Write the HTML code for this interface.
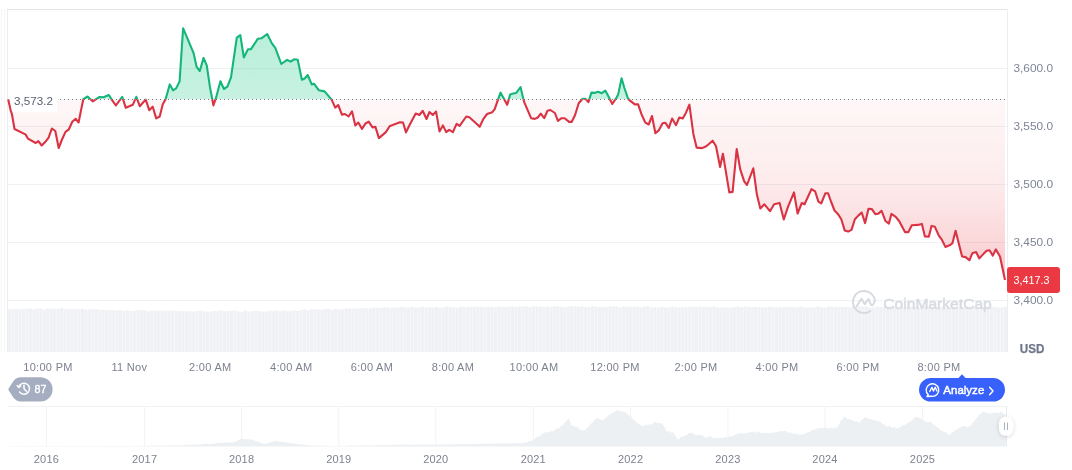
<!DOCTYPE html>
<html><head><meta charset="utf-8"><style>
html,body{margin:0;padding:0;background:#fff;width:1072px;height:470px;overflow:hidden;font-family:"Liberation Sans",sans-serif;}
svg{will-change:transform;}
</style></head><body>
<svg width="1072" height="470" viewBox="0 0 1072 470" style="position:absolute;left:0;top:0">
<defs>
<clipPath id="up"><rect x="0" y="0" width="1072" height="99.3"/></clipPath>
<clipPath id="dn"><rect x="0" y="99.3" width="1072" height="300"/></clipPath>
<linearGradient id="rg" x1="0" y1="99" x2="0" y2="285" gradientUnits="userSpaceOnUse">
<stop offset="0" stop-color="#ea3943" stop-opacity="0.04"/>
<stop offset="0.45" stop-color="#ea3943" stop-opacity="0.10"/>
<stop offset="0.8" stop-color="#ea3943" stop-opacity="0.21"/>
<stop offset="1" stop-color="#ea3943" stop-opacity="0.32"/>
</linearGradient>
<linearGradient id="gg" x1="0" y1="28" x2="0" y2="99" gradientUnits="userSpaceOnUse">
<stop offset="0" stop-color="#16c784" stop-opacity="0.30"/>
<stop offset="1" stop-color="#16c784" stop-opacity="0.24"/>
</linearGradient>
<filter id="sh" x="-50%" y="-50%" width="200%" height="200%"><feDropShadow dx="0" dy="1" stdDeviation="2" flood-color="#000" flood-opacity="0.16"/></filter>
</defs>
<g fill="none" stroke-width="1">
<path d="M1.5,352V8.5M4.5,352V8.5" stroke="#f6f6f7"/><path d="M7.5,352V9.5" stroke="#eceef0"/><path d="M7,9.5H1007.5" stroke="#e2e4e7"/><path d="M1007.5,9V352" stroke="#eceef0"/>
</g>
<g stroke="#eff1f4" stroke-width="1">
<line x1="8" y1="68.5" x2="1007" y2="68.5"/>
<line x1="8" y1="126.5" x2="1007" y2="126.5"/>
<line x1="8" y1="184.5" x2="1007" y2="184.5"/>
<line x1="8" y1="242.5" x2="1007" y2="242.5"/>
<line x1="8" y1="300.5" x2="1007" y2="300.5"/>
</g>
<path d="M8.2,99.2 L10.5,109.8 L11.9,114.0 L14.5,129.0 L23.8,133.6 L25.5,134.4 L28.0,138.7 L35.7,143.0 L38.3,141.2 L41.7,145.5 L45.9,141.2 L48.5,137.8 L51.9,128.5 L55.3,131.0 L58.7,148.0 L62.0,139.5 L65.5,131.9 L68.9,129.3 L72.3,121.7 L75.7,118.8 L78.6,122.5 L81.3,108.9 L83.3,99.2 L87.6,96.5 L92.7,101.3 L99.5,97.0 L103.5,97.3 L108.9,95.0 L111.7,99.6 L115.9,105.5 L122.2,96.8 L125.8,107.8 L132.8,104.8 L136.3,96.8 L139.8,106.2 L145.7,99.6 L149.2,110.2 L152.7,106.7 L156.2,118.4 L159.7,116.5 L162.8,104.3 L165.6,99.2 L169.8,84.4 L173.0,90.3 L176.1,88.4 L179.6,81.4 L183.1,28.2 L193.5,52.8 L196.6,66.8 L199.8,71.0 L203.6,57.9 L206.8,65.6 L209.9,86.7 L213.4,105.4 L216.2,97.2 L220.4,81.3 L223.9,89.0 L227.4,86.7 L231.0,77.3 L236.8,37.6 L240.3,35.2 L243.8,57.4 L248.0,49.3 L250.8,49.3 L257.9,38.7 L261.4,38.3 L267.2,34.0 L271.9,43.4 L275.4,48.1 L281.3,64.0 L287.1,59.8 L290.6,61.7 L294.1,59.3 L297.7,59.8 L301.9,79.7 L304.7,78.5 L307.7,75.0 L311.7,84.4 L314.0,83.7 L318.7,90.2 L324.6,91.4 L331.6,99.6 L335.2,107.6 L338.2,105.0 L341.9,114.6 L344.9,114.0 L348.6,116.5 L352.0,111.3 L355.3,125.4 L358.3,122.5 L362.0,128.9 L365.8,123.2 L368.7,121.7 L372.5,127.4 L375.4,126.9 L378.9,138.1 L385.9,132.1 L389.6,126.2 L394.1,124.4 L400.0,122.2 L403.0,122.5 L406.0,132.4 L409.7,124.7 L415.7,113.5 L419.4,115.0 L422.7,110.8 L426.5,119.0 L429.5,112.0 L432.8,115.0 L436.1,111.6 L439.5,131.4 L442.9,125.4 L446.2,132.1 L449.2,129.9 L452.9,132.1 L456.6,123.9 L459.6,125.9 L466.3,116.5 L469.3,117.2 L475.2,122.5 L479.7,126.8 L483.4,118.9 L487.1,114.0 L492.3,112.2 L494.6,109.3 L498.3,98.8 L500.5,92.6 L503.5,98.1 L507.2,104.8 L510.2,94.4 L513.2,93.6 L516.2,92.9 L520.6,87.2 L523.3,98.8 L524.4,102.6 L531.1,118.2 L534.8,118.9 L537.8,117.5 L540.8,113.7 L544.2,118.2 L547.5,110.8 L550.4,110.0 L554.9,113.0 L557.9,120.9 L561.6,118.2 L564.6,118.2 L569.1,121.9 L571.6,121.9 L575.0,115.2 L578.7,103.3 L582.5,98.8 L585.4,98.8 L588.4,102.1 L591.4,92.6 L594.4,92.9 L598.1,91.7 L601.8,93.2 L605.3,90.6 L608.5,96.6 L612.3,104.0 L616.7,97.3 L618.2,94.4 L621.6,78.3 L624.4,88.0 L628.0,98.5 L630.0,100.7 L634.8,104.4 L638.1,104.4 L641.5,114.2 L645.3,122.6 L648.7,124.5 L652.0,116.0 L655.4,133.3 L658.7,130.4 L662.6,123.3 L665.4,122.8 L668.8,128.0 L672.1,118.5 L676.0,125.2 L679.3,117.5 L682.7,118.5 L686.0,112.7 L689.4,104.6 L693.3,133.7 L696.6,147.6 L702.1,148.1 L706.3,146.2 L712.7,140.7 L716.0,146.2 L720.1,167.0 L722.9,153.7 L729.3,192.4 L732.6,191.9 L736.7,149.0 L740.3,169.7 L744.2,181.4 L747.0,185.0 L753.3,168.3 L756.9,194.6 L760.3,208.5 L764.4,204.3 L770.0,211.2 L774.1,204.3 L779.6,202.9 L783.8,219.5 L787.9,207.1 L794.0,192.4 L797.6,213.5 L801.8,203.0 L804.5,204.3 L811.5,189.1 L815.1,191.3 L818.4,201.6 L821.2,203.5 L825.3,193.3 L828.1,193.3 L831.0,201.5 L834.5,210.5 L837.9,213.9 L841.3,219.3 L844.7,230.4 L848.1,231.6 L851.5,229.9 L854.9,219.3 L858.3,215.6 L861.7,212.5 L865.1,223.1 L868.5,208.8 L871.9,209.1 L875.3,214.2 L878.7,213.4 L881.6,210.8 L885.5,221.0 L888.9,223.6 L891.4,213.9 L895.7,216.8 L899.1,221.0 L905.0,232.1 L908.4,232.1 L911.8,225.3 L917.7,224.9 L921.9,223.9 L924.9,236.4 L928.8,236.8 L931.5,225.9 L934.9,226.8 L938.7,235.4 L941.6,239.3 L945.4,246.9 L950.2,245.0 L952.5,243.1 L955.6,230.7 L958.9,244.1 L962.1,256.5 L965.6,257.1 L969.4,260.3 L972.3,253.3 L976.1,252.1 L979.3,258.4 L983.8,253.6 L986.6,250.8 L989.5,250.2 L992.8,255.6 L995.8,249.4 L1000.0,256.5 L1005.0,280.0 L1005.0,99.3 L8.2,99.3 Z" fill="url(#gg)" clip-path="url(#up)"/>
<path d="M8.2,99.2 L10.5,109.8 L11.9,114.0 L14.5,129.0 L23.8,133.6 L25.5,134.4 L28.0,138.7 L35.7,143.0 L38.3,141.2 L41.7,145.5 L45.9,141.2 L48.5,137.8 L51.9,128.5 L55.3,131.0 L58.7,148.0 L62.0,139.5 L65.5,131.9 L68.9,129.3 L72.3,121.7 L75.7,118.8 L78.6,122.5 L81.3,108.9 L83.3,99.2 L87.6,96.5 L92.7,101.3 L99.5,97.0 L103.5,97.3 L108.9,95.0 L111.7,99.6 L115.9,105.5 L122.2,96.8 L125.8,107.8 L132.8,104.8 L136.3,96.8 L139.8,106.2 L145.7,99.6 L149.2,110.2 L152.7,106.7 L156.2,118.4 L159.7,116.5 L162.8,104.3 L165.6,99.2 L169.8,84.4 L173.0,90.3 L176.1,88.4 L179.6,81.4 L183.1,28.2 L193.5,52.8 L196.6,66.8 L199.8,71.0 L203.6,57.9 L206.8,65.6 L209.9,86.7 L213.4,105.4 L216.2,97.2 L220.4,81.3 L223.9,89.0 L227.4,86.7 L231.0,77.3 L236.8,37.6 L240.3,35.2 L243.8,57.4 L248.0,49.3 L250.8,49.3 L257.9,38.7 L261.4,38.3 L267.2,34.0 L271.9,43.4 L275.4,48.1 L281.3,64.0 L287.1,59.8 L290.6,61.7 L294.1,59.3 L297.7,59.8 L301.9,79.7 L304.7,78.5 L307.7,75.0 L311.7,84.4 L314.0,83.7 L318.7,90.2 L324.6,91.4 L331.6,99.6 L335.2,107.6 L338.2,105.0 L341.9,114.6 L344.9,114.0 L348.6,116.5 L352.0,111.3 L355.3,125.4 L358.3,122.5 L362.0,128.9 L365.8,123.2 L368.7,121.7 L372.5,127.4 L375.4,126.9 L378.9,138.1 L385.9,132.1 L389.6,126.2 L394.1,124.4 L400.0,122.2 L403.0,122.5 L406.0,132.4 L409.7,124.7 L415.7,113.5 L419.4,115.0 L422.7,110.8 L426.5,119.0 L429.5,112.0 L432.8,115.0 L436.1,111.6 L439.5,131.4 L442.9,125.4 L446.2,132.1 L449.2,129.9 L452.9,132.1 L456.6,123.9 L459.6,125.9 L466.3,116.5 L469.3,117.2 L475.2,122.5 L479.7,126.8 L483.4,118.9 L487.1,114.0 L492.3,112.2 L494.6,109.3 L498.3,98.8 L500.5,92.6 L503.5,98.1 L507.2,104.8 L510.2,94.4 L513.2,93.6 L516.2,92.9 L520.6,87.2 L523.3,98.8 L524.4,102.6 L531.1,118.2 L534.8,118.9 L537.8,117.5 L540.8,113.7 L544.2,118.2 L547.5,110.8 L550.4,110.0 L554.9,113.0 L557.9,120.9 L561.6,118.2 L564.6,118.2 L569.1,121.9 L571.6,121.9 L575.0,115.2 L578.7,103.3 L582.5,98.8 L585.4,98.8 L588.4,102.1 L591.4,92.6 L594.4,92.9 L598.1,91.7 L601.8,93.2 L605.3,90.6 L608.5,96.6 L612.3,104.0 L616.7,97.3 L618.2,94.4 L621.6,78.3 L624.4,88.0 L628.0,98.5 L630.0,100.7 L634.8,104.4 L638.1,104.4 L641.5,114.2 L645.3,122.6 L648.7,124.5 L652.0,116.0 L655.4,133.3 L658.7,130.4 L662.6,123.3 L665.4,122.8 L668.8,128.0 L672.1,118.5 L676.0,125.2 L679.3,117.5 L682.7,118.5 L686.0,112.7 L689.4,104.6 L693.3,133.7 L696.6,147.6 L702.1,148.1 L706.3,146.2 L712.7,140.7 L716.0,146.2 L720.1,167.0 L722.9,153.7 L729.3,192.4 L732.6,191.9 L736.7,149.0 L740.3,169.7 L744.2,181.4 L747.0,185.0 L753.3,168.3 L756.9,194.6 L760.3,208.5 L764.4,204.3 L770.0,211.2 L774.1,204.3 L779.6,202.9 L783.8,219.5 L787.9,207.1 L794.0,192.4 L797.6,213.5 L801.8,203.0 L804.5,204.3 L811.5,189.1 L815.1,191.3 L818.4,201.6 L821.2,203.5 L825.3,193.3 L828.1,193.3 L831.0,201.5 L834.5,210.5 L837.9,213.9 L841.3,219.3 L844.7,230.4 L848.1,231.6 L851.5,229.9 L854.9,219.3 L858.3,215.6 L861.7,212.5 L865.1,223.1 L868.5,208.8 L871.9,209.1 L875.3,214.2 L878.7,213.4 L881.6,210.8 L885.5,221.0 L888.9,223.6 L891.4,213.9 L895.7,216.8 L899.1,221.0 L905.0,232.1 L908.4,232.1 L911.8,225.3 L917.7,224.9 L921.9,223.9 L924.9,236.4 L928.8,236.8 L931.5,225.9 L934.9,226.8 L938.7,235.4 L941.6,239.3 L945.4,246.9 L950.2,245.0 L952.5,243.1 L955.6,230.7 L958.9,244.1 L962.1,256.5 L965.6,257.1 L969.4,260.3 L972.3,253.3 L976.1,252.1 L979.3,258.4 L983.8,253.6 L986.6,250.8 L989.5,250.2 L992.8,255.6 L995.8,249.4 L1000.0,256.5 L1005.0,280.0 L1005.0,99.3 L8.2,99.3 Z" fill="url(#rg)" clip-path="url(#dn)"/>
<path d="M8.00,308.89h3.12V352h-3.12ZM11.47,309.21h3.12V352h-3.12ZM14.94,308.96h3.12V352h-3.12ZM18.41,309.20h3.12V352h-3.12ZM21.88,309.19h3.12V352h-3.12ZM25.35,308.48h3.12V352h-3.12ZM28.82,308.38h3.12V352h-3.12ZM32.29,309.32h3.12V352h-3.12ZM35.76,308.59h3.12V352h-3.12ZM39.23,308.52h3.12V352h-3.12ZM42.70,309.39h3.12V352h-3.12ZM46.17,308.72h3.12V352h-3.12ZM49.64,309.12h3.12V352h-3.12ZM53.11,308.65h3.12V352h-3.12ZM56.58,308.81h3.12V352h-3.12ZM60.05,308.18h3.12V352h-3.12ZM63.52,308.86h3.12V352h-3.12ZM66.99,309.23h3.12V352h-3.12ZM70.46,308.91h3.12V352h-3.12ZM73.93,309.27h3.12V352h-3.12ZM77.40,309.28h3.12V352h-3.12ZM80.87,308.64h3.12V352h-3.12ZM84.34,309.57h3.12V352h-3.12ZM87.81,309.46h3.12V352h-3.12ZM91.28,309.21h3.12V352h-3.12ZM94.74,308.98h3.12V352h-3.12ZM98.21,310.08h3.12V352h-3.12ZM101.68,309.70h3.12V352h-3.12ZM105.15,310.09h3.12V352h-3.12ZM108.62,310.37h3.12V352h-3.12ZM112.09,310.27h3.12V352h-3.12ZM115.56,310.61h3.12V352h-3.12ZM119.03,310.08h3.12V352h-3.12ZM122.50,310.66h3.12V352h-3.12ZM125.97,310.32h3.12V352h-3.12ZM129.44,311.01h3.12V352h-3.12ZM132.91,310.97h3.12V352h-3.12ZM136.38,310.05h3.12V352h-3.12ZM139.85,310.11h3.12V352h-3.12ZM143.32,310.23h3.12V352h-3.12ZM146.79,311.14h3.12V352h-3.12ZM150.26,310.52h3.12V352h-3.12ZM153.73,310.77h3.12V352h-3.12ZM157.20,310.40h3.12V352h-3.12ZM160.67,310.66h3.12V352h-3.12ZM164.14,310.53h3.12V352h-3.12ZM167.61,310.51h3.12V352h-3.12ZM171.08,310.81h3.12V352h-3.12ZM174.55,310.82h3.12V352h-3.12ZM178.02,311.23h3.12V352h-3.12ZM181.49,310.98h3.12V352h-3.12ZM184.96,311.29h3.12V352h-3.12ZM188.43,311.22h3.12V352h-3.12ZM191.90,311.40h3.12V352h-3.12ZM195.37,311.03h3.12V352h-3.12ZM198.84,310.44h3.12V352h-3.12ZM202.31,311.29h3.12V352h-3.12ZM205.78,311.44h3.12V352h-3.12ZM209.25,311.38h3.12V352h-3.12ZM212.72,311.00h3.12V352h-3.12ZM216.19,311.19h3.12V352h-3.12ZM219.66,310.60h3.12V352h-3.12ZM223.13,311.36h3.12V352h-3.12ZM226.60,311.07h3.12V352h-3.12ZM230.07,310.74h3.12V352h-3.12ZM233.54,310.49h3.12V352h-3.12ZM237.01,311.46h3.12V352h-3.12ZM240.48,311.64h3.12V352h-3.12ZM243.95,310.58h3.12V352h-3.12ZM247.42,311.45h3.12V352h-3.12ZM250.89,311.00h3.12V352h-3.12ZM254.36,310.70h3.12V352h-3.12ZM257.82,310.89h3.12V352h-3.12ZM261.29,311.48h3.12V352h-3.12ZM264.76,311.62h3.12V352h-3.12ZM268.23,310.64h3.12V352h-3.12ZM271.70,311.28h3.12V352h-3.12ZM275.17,310.48h3.12V352h-3.12ZM278.64,311.18h3.12V352h-3.12ZM282.11,310.60h3.12V352h-3.12ZM285.58,311.15h3.12V352h-3.12ZM289.05,311.15h3.12V352h-3.12ZM292.52,310.47h3.12V352h-3.12ZM295.99,310.95h3.12V352h-3.12ZM299.46,310.01h3.12V352h-3.12ZM302.93,309.61h3.12V352h-3.12ZM306.40,310.13h3.12V352h-3.12ZM309.87,309.33h3.12V352h-3.12ZM313.34,309.42h3.12V352h-3.12ZM316.81,309.56h3.12V352h-3.12ZM320.28,309.69h3.12V352h-3.12ZM323.75,309.03h3.12V352h-3.12ZM327.22,308.78h3.12V352h-3.12ZM330.69,309.66h3.12V352h-3.12ZM334.16,308.88h3.12V352h-3.12ZM337.63,309.54h3.12V352h-3.12ZM341.10,309.35h3.12V352h-3.12ZM344.57,308.61h3.12V352h-3.12ZM348.04,308.60h3.12V352h-3.12ZM351.51,308.56h3.12V352h-3.12ZM354.98,308.59h3.12V352h-3.12ZM358.45,308.42h3.12V352h-3.12ZM361.92,308.26h3.12V352h-3.12ZM365.39,308.22h3.12V352h-3.12ZM368.86,308.49h3.12V352h-3.12ZM372.33,307.86h3.12V352h-3.12ZM375.80,307.65h3.12V352h-3.12ZM379.27,307.89h3.12V352h-3.12ZM382.74,307.27h3.12V352h-3.12ZM386.21,307.32h3.12V352h-3.12ZM389.68,308.11h3.12V352h-3.12ZM393.15,307.54h3.12V352h-3.12ZM396.62,307.55h3.12V352h-3.12ZM400.09,306.88h3.12V352h-3.12ZM403.56,307.35h3.12V352h-3.12ZM407.03,307.52h3.12V352h-3.12ZM410.50,306.83h3.12V352h-3.12ZM413.97,307.52h3.12V352h-3.12ZM417.44,307.52h3.12V352h-3.12ZM420.91,306.81h3.12V352h-3.12ZM424.38,307.47h3.12V352h-3.12ZM427.84,307.25h3.12V352h-3.12ZM431.31,307.49h3.12V352h-3.12ZM434.78,307.07h3.12V352h-3.12ZM438.25,307.47h3.12V352h-3.12ZM441.72,307.49h3.12V352h-3.12ZM445.19,306.61h3.12V352h-3.12ZM448.66,306.63h3.12V352h-3.12ZM452.13,307.35h3.12V352h-3.12ZM455.60,307.67h3.12V352h-3.12ZM459.07,306.79h3.12V352h-3.12ZM462.54,307.02h3.12V352h-3.12ZM466.01,307.16h3.12V352h-3.12ZM469.48,306.81h3.12V352h-3.12ZM472.95,306.84h3.12V352h-3.12ZM476.42,306.76h3.12V352h-3.12ZM479.89,306.80h3.12V352h-3.12ZM483.36,307.05h3.12V352h-3.12ZM486.83,306.68h3.12V352h-3.12ZM490.30,306.75h3.12V352h-3.12ZM493.77,307.20h3.12V352h-3.12ZM497.24,306.28h3.12V352h-3.12ZM500.71,306.91h3.12V352h-3.12ZM504.18,307.09h3.12V352h-3.12ZM507.65,306.55h3.12V352h-3.12ZM511.12,306.43h3.12V352h-3.12ZM514.59,307.10h3.12V352h-3.12ZM518.06,306.40h3.12V352h-3.12ZM521.53,306.32h3.12V352h-3.12ZM525.00,306.59h3.12V352h-3.12ZM528.47,306.89h3.12V352h-3.12ZM531.94,306.15h3.12V352h-3.12ZM535.41,306.39h3.12V352h-3.12ZM538.88,306.41h3.12V352h-3.12ZM542.35,307.02h3.12V352h-3.12ZM545.82,306.55h3.12V352h-3.12ZM549.29,307.06h3.12V352h-3.12ZM552.76,306.24h3.12V352h-3.12ZM556.23,306.45h3.12V352h-3.12ZM559.70,306.84h3.12V352h-3.12ZM563.17,307.13h3.12V352h-3.12ZM566.64,306.62h3.12V352h-3.12ZM570.11,306.35h3.12V352h-3.12ZM573.58,306.24h3.12V352h-3.12ZM577.05,306.74h3.12V352h-3.12ZM580.52,306.34h3.12V352h-3.12ZM583.99,307.09h3.12V352h-3.12ZM587.46,307.13h3.12V352h-3.12ZM590.92,306.35h3.12V352h-3.12ZM594.39,306.48h3.12V352h-3.12ZM597.86,307.12h3.12V352h-3.12ZM601.33,306.93h3.12V352h-3.12ZM604.80,307.14h3.12V352h-3.12ZM608.27,306.59h3.12V352h-3.12ZM611.74,306.34h3.12V352h-3.12ZM615.21,306.54h3.12V352h-3.12ZM618.68,307.15h3.12V352h-3.12ZM622.15,306.54h3.12V352h-3.12ZM625.62,306.63h3.12V352h-3.12ZM629.09,306.73h3.12V352h-3.12ZM632.56,306.74h3.12V352h-3.12ZM636.03,306.74h3.12V352h-3.12ZM639.50,307.36h3.12V352h-3.12ZM642.97,306.45h3.12V352h-3.12ZM646.44,306.27h3.12V352h-3.12ZM649.91,307.41h3.12V352h-3.12ZM653.38,307.34h3.12V352h-3.12ZM656.85,307.48h3.12V352h-3.12ZM660.32,306.82h3.12V352h-3.12ZM663.79,307.45h3.12V352h-3.12ZM667.26,307.43h3.12V352h-3.12ZM670.73,306.60h3.12V352h-3.12ZM674.20,307.23h3.12V352h-3.12ZM677.67,307.35h3.12V352h-3.12ZM681.14,307.15h3.12V352h-3.12ZM684.61,306.99h3.12V352h-3.12ZM688.08,306.72h3.12V352h-3.12ZM691.55,306.79h3.12V352h-3.12ZM695.02,306.66h3.12V352h-3.12ZM698.49,306.48h3.12V352h-3.12ZM701.96,307.11h3.12V352h-3.12ZM705.43,306.74h3.12V352h-3.12ZM708.90,307.37h3.12V352h-3.12ZM712.37,306.45h3.12V352h-3.12ZM715.84,307.48h3.12V352h-3.12ZM719.31,307.23h3.12V352h-3.12ZM722.78,307.51h3.12V352h-3.12ZM726.25,307.48h3.12V352h-3.12ZM729.72,307.48h3.12V352h-3.12ZM733.19,307.09h3.12V352h-3.12ZM736.66,306.42h3.12V352h-3.12ZM740.13,307.29h3.12V352h-3.12ZM743.60,306.61h3.12V352h-3.12ZM747.07,306.76h3.12V352h-3.12ZM750.54,307.20h3.12V352h-3.12ZM754.01,307.03h3.12V352h-3.12ZM757.48,306.90h3.12V352h-3.12ZM760.94,307.53h3.12V352h-3.12ZM764.41,307.13h3.12V352h-3.12ZM767.88,306.81h3.12V352h-3.12ZM771.35,306.70h3.12V352h-3.12ZM774.82,307.43h3.12V352h-3.12ZM778.29,306.97h3.12V352h-3.12ZM781.76,307.34h3.12V352h-3.12ZM785.23,306.82h3.12V352h-3.12ZM788.70,306.64h3.12V352h-3.12ZM792.17,307.04h3.12V352h-3.12ZM795.64,307.38h3.12V352h-3.12ZM799.11,306.61h3.12V352h-3.12ZM802.58,307.35h3.12V352h-3.12ZM806.05,307.51h3.12V352h-3.12ZM809.52,307.37h3.12V352h-3.12ZM812.99,307.39h3.12V352h-3.12ZM816.46,306.41h3.12V352h-3.12ZM819.93,307.15h3.12V352h-3.12ZM823.40,307.44h3.12V352h-3.12ZM826.87,306.46h3.12V352h-3.12ZM830.34,306.73h3.12V352h-3.12ZM833.81,306.72h3.12V352h-3.12ZM837.28,307.03h3.12V352h-3.12ZM840.75,306.91h3.12V352h-3.12ZM844.22,306.97h3.12V352h-3.12ZM847.69,307.33h3.12V352h-3.12ZM851.16,306.40h3.12V352h-3.12ZM854.63,306.47h3.12V352h-3.12ZM858.10,306.55h3.12V352h-3.12ZM861.57,306.55h3.12V352h-3.12ZM865.04,306.48h3.12V352h-3.12ZM868.51,307.57h3.12V352h-3.12ZM871.98,307.43h3.12V352h-3.12ZM875.45,306.50h3.12V352h-3.12ZM878.92,307.00h3.12V352h-3.12ZM882.39,306.78h3.12V352h-3.12ZM885.86,306.78h3.12V352h-3.12ZM889.33,306.82h3.12V352h-3.12ZM892.80,307.18h3.12V352h-3.12ZM896.27,307.10h3.12V352h-3.12ZM899.74,306.83h3.12V352h-3.12ZM903.21,306.63h3.12V352h-3.12ZM906.68,306.79h3.12V352h-3.12ZM910.15,306.55h3.12V352h-3.12ZM913.62,307.07h3.12V352h-3.12ZM917.09,307.26h3.12V352h-3.12ZM920.56,306.86h3.12V352h-3.12ZM924.02,306.50h3.12V352h-3.12ZM927.49,306.61h3.12V352h-3.12ZM930.96,306.85h3.12V352h-3.12ZM934.43,307.13h3.12V352h-3.12ZM937.90,307.34h3.12V352h-3.12ZM941.37,306.86h3.12V352h-3.12ZM944.84,307.36h3.12V352h-3.12ZM948.31,307.15h3.12V352h-3.12ZM951.78,306.92h3.12V352h-3.12ZM955.25,306.85h3.12V352h-3.12ZM958.72,307.00h3.12V352h-3.12ZM962.19,307.24h3.12V352h-3.12ZM965.66,306.90h3.12V352h-3.12ZM969.13,307.23h3.12V352h-3.12ZM972.60,306.95h3.12V352h-3.12ZM976.07,306.69h3.12V352h-3.12ZM979.54,307.04h3.12V352h-3.12ZM983.01,307.23h3.12V352h-3.12ZM986.48,306.49h3.12V352h-3.12ZM989.95,306.91h3.12V352h-3.12ZM993.42,306.91h3.12V352h-3.12ZM996.89,307.46h3.12V352h-3.12ZM1000.36,307.52h3.12V352h-3.12ZM1003.83,306.85h3.12V352h-3.12Z" fill="#eff1f4"/>
<g>
<path d="M874.9,300.6 A11,11 0 1 0 870.4,310.9" fill="none" stroke="#d6d9df" stroke-width="1.9" stroke-linecap="round"/>
<path d="M856.6,306.4 L861.4,298.7 L864.8,304.2 L868.4,298.9 L870.7,304.3 Q872.6,307.2 874.9,300.8" fill="none" stroke="#d6d9df" stroke-width="1.9" stroke-linejoin="round" stroke-linecap="round"/>
<text x="883.3" y="309" font-family="Liberation Sans" font-size="15" fill="#d8dbe1" stroke="#d8dbe1" stroke-width="0.55" textLength="108.5" lengthAdjust="spacingAndGlyphs">CoinMarketCap</text>
</g>
<rect x="9.5" y="88" width="47.5" height="24" fill="#ffffff" opacity="0.95"/>
<text x="14" y="104.6" font-family="Liberation Sans" font-size="11" fill="#5a6272" textLength="38.9" lengthAdjust="spacingAndGlyphs">3,573.2</text>
<line x1="60" y1="99.5" x2="1006" y2="99.5" stroke="#737985" stroke-width="1" stroke-dasharray="1 3"/>
<path d="M8.2,99.2 L10.5,109.8 L11.9,114.0 L14.5,129.0 L23.8,133.6 L25.5,134.4 L28.0,138.7 L35.7,143.0 L38.3,141.2 L41.7,145.5 L45.9,141.2 L48.5,137.8 L51.9,128.5 L55.3,131.0 L58.7,148.0 L62.0,139.5 L65.5,131.9 L68.9,129.3 L72.3,121.7 L75.7,118.8 L78.6,122.5 L81.3,108.9 L83.3,99.2 L87.6,96.5 L92.7,101.3 L99.5,97.0 L103.5,97.3 L108.9,95.0 L111.7,99.6 L115.9,105.5 L122.2,96.8 L125.8,107.8 L132.8,104.8 L136.3,96.8 L139.8,106.2 L145.7,99.6 L149.2,110.2 L152.7,106.7 L156.2,118.4 L159.7,116.5 L162.8,104.3 L165.6,99.2 L169.8,84.4 L173.0,90.3 L176.1,88.4 L179.6,81.4 L183.1,28.2 L193.5,52.8 L196.6,66.8 L199.8,71.0 L203.6,57.9 L206.8,65.6 L209.9,86.7 L213.4,105.4 L216.2,97.2 L220.4,81.3 L223.9,89.0 L227.4,86.7 L231.0,77.3 L236.8,37.6 L240.3,35.2 L243.8,57.4 L248.0,49.3 L250.8,49.3 L257.9,38.7 L261.4,38.3 L267.2,34.0 L271.9,43.4 L275.4,48.1 L281.3,64.0 L287.1,59.8 L290.6,61.7 L294.1,59.3 L297.7,59.8 L301.9,79.7 L304.7,78.5 L307.7,75.0 L311.7,84.4 L314.0,83.7 L318.7,90.2 L324.6,91.4 L331.6,99.6 L335.2,107.6 L338.2,105.0 L341.9,114.6 L344.9,114.0 L348.6,116.5 L352.0,111.3 L355.3,125.4 L358.3,122.5 L362.0,128.9 L365.8,123.2 L368.7,121.7 L372.5,127.4 L375.4,126.9 L378.9,138.1 L385.9,132.1 L389.6,126.2 L394.1,124.4 L400.0,122.2 L403.0,122.5 L406.0,132.4 L409.7,124.7 L415.7,113.5 L419.4,115.0 L422.7,110.8 L426.5,119.0 L429.5,112.0 L432.8,115.0 L436.1,111.6 L439.5,131.4 L442.9,125.4 L446.2,132.1 L449.2,129.9 L452.9,132.1 L456.6,123.9 L459.6,125.9 L466.3,116.5 L469.3,117.2 L475.2,122.5 L479.7,126.8 L483.4,118.9 L487.1,114.0 L492.3,112.2 L494.6,109.3 L498.3,98.8 L500.5,92.6 L503.5,98.1 L507.2,104.8 L510.2,94.4 L513.2,93.6 L516.2,92.9 L520.6,87.2 L523.3,98.8 L524.4,102.6 L531.1,118.2 L534.8,118.9 L537.8,117.5 L540.8,113.7 L544.2,118.2 L547.5,110.8 L550.4,110.0 L554.9,113.0 L557.9,120.9 L561.6,118.2 L564.6,118.2 L569.1,121.9 L571.6,121.9 L575.0,115.2 L578.7,103.3 L582.5,98.8 L585.4,98.8 L588.4,102.1 L591.4,92.6 L594.4,92.9 L598.1,91.7 L601.8,93.2 L605.3,90.6 L608.5,96.6 L612.3,104.0 L616.7,97.3 L618.2,94.4 L621.6,78.3 L624.4,88.0 L628.0,98.5 L630.0,100.7 L634.8,104.4 L638.1,104.4 L641.5,114.2 L645.3,122.6 L648.7,124.5 L652.0,116.0 L655.4,133.3 L658.7,130.4 L662.6,123.3 L665.4,122.8 L668.8,128.0 L672.1,118.5 L676.0,125.2 L679.3,117.5 L682.7,118.5 L686.0,112.7 L689.4,104.6 L693.3,133.7 L696.6,147.6 L702.1,148.1 L706.3,146.2 L712.7,140.7 L716.0,146.2 L720.1,167.0 L722.9,153.7 L729.3,192.4 L732.6,191.9 L736.7,149.0 L740.3,169.7 L744.2,181.4 L747.0,185.0 L753.3,168.3 L756.9,194.6 L760.3,208.5 L764.4,204.3 L770.0,211.2 L774.1,204.3 L779.6,202.9 L783.8,219.5 L787.9,207.1 L794.0,192.4 L797.6,213.5 L801.8,203.0 L804.5,204.3 L811.5,189.1 L815.1,191.3 L818.4,201.6 L821.2,203.5 L825.3,193.3 L828.1,193.3 L831.0,201.5 L834.5,210.5 L837.9,213.9 L841.3,219.3 L844.7,230.4 L848.1,231.6 L851.5,229.9 L854.9,219.3 L858.3,215.6 L861.7,212.5 L865.1,223.1 L868.5,208.8 L871.9,209.1 L875.3,214.2 L878.7,213.4 L881.6,210.8 L885.5,221.0 L888.9,223.6 L891.4,213.9 L895.7,216.8 L899.1,221.0 L905.0,232.1 L908.4,232.1 L911.8,225.3 L917.7,224.9 L921.9,223.9 L924.9,236.4 L928.8,236.8 L931.5,225.9 L934.9,226.8 L938.7,235.4 L941.6,239.3 L945.4,246.9 L950.2,245.0 L952.5,243.1 L955.6,230.7 L958.9,244.1 L962.1,256.5 L965.6,257.1 L969.4,260.3 L972.3,253.3 L976.1,252.1 L979.3,258.4 L983.8,253.6 L986.6,250.8 L989.5,250.2 L992.8,255.6 L995.8,249.4 L1000.0,256.5 L1005.0,280.0" fill="none" stroke="#15b679" stroke-width="2.1" stroke-linejoin="round" clip-path="url(#up)"/>
<path d="M8.2,99.2 L10.5,109.8 L11.9,114.0 L14.5,129.0 L23.8,133.6 L25.5,134.4 L28.0,138.7 L35.7,143.0 L38.3,141.2 L41.7,145.5 L45.9,141.2 L48.5,137.8 L51.9,128.5 L55.3,131.0 L58.7,148.0 L62.0,139.5 L65.5,131.9 L68.9,129.3 L72.3,121.7 L75.7,118.8 L78.6,122.5 L81.3,108.9 L83.3,99.2 L87.6,96.5 L92.7,101.3 L99.5,97.0 L103.5,97.3 L108.9,95.0 L111.7,99.6 L115.9,105.5 L122.2,96.8 L125.8,107.8 L132.8,104.8 L136.3,96.8 L139.8,106.2 L145.7,99.6 L149.2,110.2 L152.7,106.7 L156.2,118.4 L159.7,116.5 L162.8,104.3 L165.6,99.2 L169.8,84.4 L173.0,90.3 L176.1,88.4 L179.6,81.4 L183.1,28.2 L193.5,52.8 L196.6,66.8 L199.8,71.0 L203.6,57.9 L206.8,65.6 L209.9,86.7 L213.4,105.4 L216.2,97.2 L220.4,81.3 L223.9,89.0 L227.4,86.7 L231.0,77.3 L236.8,37.6 L240.3,35.2 L243.8,57.4 L248.0,49.3 L250.8,49.3 L257.9,38.7 L261.4,38.3 L267.2,34.0 L271.9,43.4 L275.4,48.1 L281.3,64.0 L287.1,59.8 L290.6,61.7 L294.1,59.3 L297.7,59.8 L301.9,79.7 L304.7,78.5 L307.7,75.0 L311.7,84.4 L314.0,83.7 L318.7,90.2 L324.6,91.4 L331.6,99.6 L335.2,107.6 L338.2,105.0 L341.9,114.6 L344.9,114.0 L348.6,116.5 L352.0,111.3 L355.3,125.4 L358.3,122.5 L362.0,128.9 L365.8,123.2 L368.7,121.7 L372.5,127.4 L375.4,126.9 L378.9,138.1 L385.9,132.1 L389.6,126.2 L394.1,124.4 L400.0,122.2 L403.0,122.5 L406.0,132.4 L409.7,124.7 L415.7,113.5 L419.4,115.0 L422.7,110.8 L426.5,119.0 L429.5,112.0 L432.8,115.0 L436.1,111.6 L439.5,131.4 L442.9,125.4 L446.2,132.1 L449.2,129.9 L452.9,132.1 L456.6,123.9 L459.6,125.9 L466.3,116.5 L469.3,117.2 L475.2,122.5 L479.7,126.8 L483.4,118.9 L487.1,114.0 L492.3,112.2 L494.6,109.3 L498.3,98.8 L500.5,92.6 L503.5,98.1 L507.2,104.8 L510.2,94.4 L513.2,93.6 L516.2,92.9 L520.6,87.2 L523.3,98.8 L524.4,102.6 L531.1,118.2 L534.8,118.9 L537.8,117.5 L540.8,113.7 L544.2,118.2 L547.5,110.8 L550.4,110.0 L554.9,113.0 L557.9,120.9 L561.6,118.2 L564.6,118.2 L569.1,121.9 L571.6,121.9 L575.0,115.2 L578.7,103.3 L582.5,98.8 L585.4,98.8 L588.4,102.1 L591.4,92.6 L594.4,92.9 L598.1,91.7 L601.8,93.2 L605.3,90.6 L608.5,96.6 L612.3,104.0 L616.7,97.3 L618.2,94.4 L621.6,78.3 L624.4,88.0 L628.0,98.5 L630.0,100.7 L634.8,104.4 L638.1,104.4 L641.5,114.2 L645.3,122.6 L648.7,124.5 L652.0,116.0 L655.4,133.3 L658.7,130.4 L662.6,123.3 L665.4,122.8 L668.8,128.0 L672.1,118.5 L676.0,125.2 L679.3,117.5 L682.7,118.5 L686.0,112.7 L689.4,104.6 L693.3,133.7 L696.6,147.6 L702.1,148.1 L706.3,146.2 L712.7,140.7 L716.0,146.2 L720.1,167.0 L722.9,153.7 L729.3,192.4 L732.6,191.9 L736.7,149.0 L740.3,169.7 L744.2,181.4 L747.0,185.0 L753.3,168.3 L756.9,194.6 L760.3,208.5 L764.4,204.3 L770.0,211.2 L774.1,204.3 L779.6,202.9 L783.8,219.5 L787.9,207.1 L794.0,192.4 L797.6,213.5 L801.8,203.0 L804.5,204.3 L811.5,189.1 L815.1,191.3 L818.4,201.6 L821.2,203.5 L825.3,193.3 L828.1,193.3 L831.0,201.5 L834.5,210.5 L837.9,213.9 L841.3,219.3 L844.7,230.4 L848.1,231.6 L851.5,229.9 L854.9,219.3 L858.3,215.6 L861.7,212.5 L865.1,223.1 L868.5,208.8 L871.9,209.1 L875.3,214.2 L878.7,213.4 L881.6,210.8 L885.5,221.0 L888.9,223.6 L891.4,213.9 L895.7,216.8 L899.1,221.0 L905.0,232.1 L908.4,232.1 L911.8,225.3 L917.7,224.9 L921.9,223.9 L924.9,236.4 L928.8,236.8 L931.5,225.9 L934.9,226.8 L938.7,235.4 L941.6,239.3 L945.4,246.9 L950.2,245.0 L952.5,243.1 L955.6,230.7 L958.9,244.1 L962.1,256.5 L965.6,257.1 L969.4,260.3 L972.3,253.3 L976.1,252.1 L979.3,258.4 L983.8,253.6 L986.6,250.8 L989.5,250.2 L992.8,255.6 L995.8,249.4 L1000.0,256.5 L1005.0,280.0" fill="none" stroke="#da3344" stroke-width="2.1" stroke-linejoin="round" clip-path="url(#dn)"/>
<text x="1013.4" y="71.8" font-family="Liberation Sans" font-size="11" fill="#7f8594" textLength="39.6" lengthAdjust="spacingAndGlyphs">3,600.0</text>
<text x="1013.4" y="129.8" font-family="Liberation Sans" font-size="11" fill="#7f8594" textLength="39.6" lengthAdjust="spacingAndGlyphs">3,550.0</text>
<text x="1013.4" y="187.8" font-family="Liberation Sans" font-size="11" fill="#7f8594" textLength="39.6" lengthAdjust="spacingAndGlyphs">3,500.0</text>
<text x="1013.4" y="245.8" font-family="Liberation Sans" font-size="11" fill="#7f8594" textLength="39.6" lengthAdjust="spacingAndGlyphs">3,450.0</text>
<text x="1013.4" y="303.8" font-family="Liberation Sans" font-size="11" fill="#7f8594" textLength="39.6" lengthAdjust="spacingAndGlyphs">3,400.0</text>
<rect x="1007" y="267" width="53" height="26" rx="3" fill="#ea3943"/>
<text x="1013.6" y="284" font-family="Liberation Sans" font-size="11" fill="#ffffff" textLength="35.8" lengthAdjust="spacingAndGlyphs">3,417.3</text>
<text x="1019.8" y="352.6" font-family="Liberation Sans" font-weight="bold" font-size="12" fill="#70768a" stroke="#70768a" stroke-width="0.25" textLength="24.6" lengthAdjust="spacingAndGlyphs">USD</text>
<text x="48" y="370.8" text-anchor="middle" font-family="Liberation Sans" font-size="11" letter-spacing="0.3" fill="#7d828f">10:00 PM</text>
<text x="129.4" y="370.8" text-anchor="middle" font-family="Liberation Sans" font-size="11" letter-spacing="0.3" fill="#7d828f">11 Nov</text>
<text x="210.3" y="370.8" text-anchor="middle" font-family="Liberation Sans" font-size="11" letter-spacing="0.3" fill="#7d828f">2:00 AM</text>
<text x="291.3" y="370.8" text-anchor="middle" font-family="Liberation Sans" font-size="11" letter-spacing="0.3" fill="#7d828f">4:00 AM</text>
<text x="372" y="370.8" text-anchor="middle" font-family="Liberation Sans" font-size="11" letter-spacing="0.3" fill="#7d828f">6:00 AM</text>
<text x="453" y="370.8" text-anchor="middle" font-family="Liberation Sans" font-size="11" letter-spacing="0.3" fill="#7d828f">8:00 AM</text>
<text x="534" y="370.8" text-anchor="middle" font-family="Liberation Sans" font-size="11" letter-spacing="0.3" fill="#7d828f">10:00 AM</text>
<text x="615" y="370.8" text-anchor="middle" font-family="Liberation Sans" font-size="11" letter-spacing="0.3" fill="#7d828f">12:00 PM</text>
<text x="696" y="370.8" text-anchor="middle" font-family="Liberation Sans" font-size="11" letter-spacing="0.3" fill="#7d828f">2:00 PM</text>
<text x="777" y="370.8" text-anchor="middle" font-family="Liberation Sans" font-size="11" letter-spacing="0.3" fill="#7d828f">4:00 PM</text>
<text x="858" y="370.8" text-anchor="middle" font-family="Liberation Sans" font-size="11" letter-spacing="0.3" fill="#7d828f">6:00 PM</text>
<text x="939" y="370.8" text-anchor="middle" font-family="Liberation Sans" font-size="11" letter-spacing="0.3" fill="#7d828f">8:00 PM</text>
<line x1="8" y1="406.5" x2="1007" y2="406.5" stroke="#f1f2f4" stroke-width="1"/>
<g stroke="#f2f3f5" stroke-width="1">
<line x1="46.4" y1="406.5" x2="46.4" y2="446.5"/>
<line x1="144.6" y1="406.5" x2="144.6" y2="446.5"/>
<line x1="241.6" y1="406.5" x2="241.6" y2="446.5"/>
<line x1="338.8" y1="406.5" x2="338.8" y2="446.5"/>
<line x1="435.8" y1="406.5" x2="435.8" y2="446.5"/>
<line x1="533.3" y1="406.5" x2="533.3" y2="446.5"/>
<line x1="630.6" y1="406.5" x2="630.6" y2="446.5"/>
<line x1="727.9" y1="406.5" x2="727.9" y2="446.5"/>
<line x1="825" y1="406.5" x2="825" y2="446.5"/>
<line x1="922.5" y1="406.5" x2="922.5" y2="446.5"/>
</g>
<path d="M8,446.5 L8.0,446.2 L9.5,446.2 L11.0,446.2 L12.5,446.2 L14.0,446.2 L15.5,446.2 L17.0,446.0 L18.5,446.2 L20.0,446.2 L21.6,446.2 L23.1,446.0 L24.6,446.1 L26.1,446.0 L27.6,446.2 L29.1,446.2 L30.6,446.0 L32.1,446.2 L33.6,446.2 L35.1,446.2 L36.6,446.2 L38.1,446.0 L39.6,445.9 L41.1,446.2 L42.6,446.0 L44.1,446.0 L45.7,446.0 L47.2,445.9 L48.7,446.1 L50.2,446.1 L51.7,446.2 L53.2,446.2 L54.7,446.2 L56.2,446.2 L57.7,446.2 L59.2,446.1 L60.7,446.0 L62.2,446.2 L63.7,446.2 L65.2,446.2 L66.7,446.2 L68.2,446.1 L69.8,446.0 L71.3,446.0 L72.8,445.9 L74.3,446.2 L75.8,446.1 L77.3,446.2 L78.8,446.1 L80.3,446.2 L81.8,446.2 L83.3,445.9 L84.8,446.0 L86.3,446.2 L87.8,446.1 L89.3,446.2 L90.8,446.1 L92.3,445.9 L93.9,446.2 L95.4,446.2 L96.9,446.0 L98.4,445.9 L99.9,446.0 L101.4,446.2 L102.9,446.2 L104.4,445.9 L105.9,446.0 L107.4,445.9 L108.9,445.9 L110.4,446.2 L111.9,446.0 L113.4,446.1 L114.9,446.1 L116.4,446.0 L118.0,446.2 L119.5,445.9 L121.0,446.2 L122.5,445.9 L124.0,446.1 L125.5,446.0 L127.0,446.0 L128.5,446.2 L130.0,446.2 L131.5,446.0 L133.1,446.2 L134.6,445.9 L136.1,445.9 L137.7,446.1 L139.2,446.0 L140.7,445.7 L142.3,446.1 L143.8,445.7 L145.4,445.7 L146.9,445.9 L148.4,445.7 L150.0,445.7 L151.5,445.5 L153.0,445.5 L154.6,445.7 L156.1,445.5 L157.6,445.7 L159.2,445.5 L160.7,445.5 L162.2,445.8 L163.8,445.5 L165.3,445.5 L166.8,445.6 L168.4,445.3 L169.9,445.2 L171.5,445.6 L173.0,445.5 L174.5,445.2 L176.1,445.2 L177.6,445.4 L179.1,445.5 L180.7,445.1 L182.2,445.4 L183.7,445.3 L185.3,445.1 L186.8,444.9 L188.4,444.7 L189.9,444.6 L191.4,445.0 L193.0,444.5 L194.5,444.7 L196.1,444.4 L197.6,444.6 L199.2,444.4 L200.7,444.2 L202.2,444.0 L203.8,444.2 L205.3,443.8 L206.9,443.8 L208.4,443.9 L209.9,444.0 L211.5,443.7 L213.0,443.5 L214.5,443.7 L216.1,443.2 L217.6,443.0 L219.1,443.0 L220.7,443.0 L222.2,442.7 L223.8,442.6 L225.3,442.6 L226.8,442.6 L228.4,442.3 L229.9,442.3 L231.4,442.4 L233.0,442.4 L234.5,442.1 L236.0,441.4 L237.5,440.7 L239.0,439.8 L240.5,439.1 L242.0,438.5 L243.6,439.1 L245.1,439.1 L246.7,439.4 L248.2,439.1 L249.8,439.5 L251.3,439.6 L252.9,440.3 L254.6,440.6 L256.2,441.5 L257.8,441.5 L259.4,442.3 L261.1,442.9 L262.7,443.6 L264.3,444.0 L265.9,443.6 L267.5,443.2 L269.1,442.8 L270.7,442.1 L272.3,441.8 L273.9,441.5 L275.5,441.1 L277.1,441.1 L278.8,441.5 L280.4,441.8 L282.1,441.9 L283.7,442.1 L285.3,442.3 L287.0,442.6 L288.6,442.9 L290.2,442.8 L291.7,443.3 L293.2,443.6 L294.8,443.8 L296.4,443.9 L297.9,443.9 L299.4,444.3 L301.0,444.4 L302.6,444.6 L304.1,445.0 L305.6,444.8 L307.2,445.3 L308.7,445.0 L310.2,445.4 L311.8,445.4 L313.3,445.3 L314.8,445.6 L316.3,445.5 L317.8,445.6 L319.4,445.8 L320.9,445.6 L322.4,445.5 L323.9,445.7 L325.4,445.9 L327.0,445.7 L328.5,445.8 L330.0,446.2 L331.5,446.1 L333.0,445.9 L334.6,446.1 L336.1,445.8 L337.6,446.0 L339.1,445.7 L340.7,445.8 L342.2,445.9 L343.7,446.0 L345.2,445.9 L346.7,445.7 L348.3,445.7 L349.8,445.6 L351.3,445.5 L352.8,445.6 L354.3,445.8 L355.9,445.7 L357.4,445.6 L358.9,445.7 L360.4,445.4 L362.0,445.3 L363.5,445.4 L365.0,445.3 L366.5,445.2 L368.0,445.3 L369.6,445.4 L371.1,445.3 L372.6,445.2 L374.1,445.4 L375.7,445.5 L377.2,445.2 L378.7,445.0 L380.2,444.9 L381.7,445.3 L383.3,444.9 L384.8,445.2 L386.3,445.1 L387.8,444.9 L389.3,445.1 L390.9,444.7 L392.4,444.7 L393.9,444.9 L395.4,444.6 L397.0,445.0 L398.5,444.7 L400.0,444.6 L401.5,444.6 L403.1,444.8 L404.6,444.7 L406.2,444.8 L407.7,444.8 L409.2,444.9 L410.8,444.9 L412.3,444.8 L413.8,444.5 L415.4,444.7 L416.9,444.5 L418.5,444.4 L420.0,444.6 L421.5,444.7 L423.1,444.5 L424.6,444.5 L426.2,444.5 L427.7,444.7 L429.2,444.6 L430.8,444.6 L432.3,444.7 L433.8,444.5 L435.4,444.7 L436.9,444.7 L438.5,444.3 L440.0,444.7 L441.5,444.6 L443.1,444.3 L444.6,444.4 L446.2,444.5 L447.7,444.6 L449.2,444.3 L450.8,444.3 L452.3,444.5 L453.8,444.4 L455.4,444.5 L456.9,444.2 L458.5,444.3 L460.0,444.0 L461.5,444.2 L463.1,444.3 L464.6,444.1 L466.2,444.2 L467.7,443.9 L469.2,444.2 L470.8,444.2 L472.3,444.2 L473.8,443.9 L475.4,444.0 L476.9,443.8 L478.5,444.0 L480.0,444.0 L481.5,443.7 L483.1,443.5 L484.6,443.7 L486.2,443.7 L487.7,443.8 L489.2,443.7 L490.8,443.4 L492.3,443.8 L493.8,443.4 L495.4,443.7 L496.9,443.4 L498.5,443.4 L500.0,443.6 L501.5,443.3 L503.1,443.3 L504.6,443.4 L506.2,443.5 L507.7,443.6 L509.2,443.5 L510.8,443.6 L512.3,443.3 L513.8,443.5 L515.4,443.1 L516.9,443.1 L518.5,443.2 L520.0,443.1 L521.6,443.3 L523.1,442.9 L524.7,442.4 L526.2,442.7 L527.8,441.9 L529.3,441.1 L530.9,441.0 L532.8,440.4 L534.6,439.0 L536.2,436.8 L537.8,437.1 L539.5,436.3 L541.1,434.6 L542.7,433.8 L544.3,432.2 L546.1,432.5 L547.9,432.1 L549.7,432.0 L551.5,430.6 L553.3,431.4 L555.1,429.7 L557.0,428.6 L558.8,428.4 L560.3,426.8 L561.8,425.4 L563.4,424.6 L564.9,422.2 L566.7,420.7 L568.5,418.0 L570.3,422.7 L572.1,426.3 L573.6,425.7 L575.2,426.7 L576.7,426.6 L578.2,427.8 L579.7,429.2 L581.2,430.2 L582.8,430.2 L584.3,430.7 L585.8,428.8 L587.3,427.9 L588.8,426.7 L590.3,423.6 L592.1,423.3 L594.0,420.4 L595.8,419.2 L597.6,417.7 L599.2,419.3 L600.9,419.5 L602.5,420.3 L604.0,419.6 L605.5,417.5 L607.0,417.4 L608.5,415.1 L610.2,414.7 L611.9,413.1 L613.6,411.9 L615.3,411.4 L617.0,410.1 L618.8,410.5 L620.6,411.0 L622.5,411.7 L624.3,411.5 L626.1,412.8 L628.0,414.8 L629.8,416.0 L631.6,417.1 L633.4,419.5 L635.2,420.9 L637.0,423.1 L638.8,423.8 L640.4,425.1 L642.1,425.7 L643.7,426.2 L645.2,424.9 L646.8,424.6 L648.3,425.4 L649.8,423.8 L651.3,424.7 L652.8,424.0 L654.3,422.1 L655.8,421.8 L657.6,423.2 L659.5,422.9 L661.3,423.1 L663.1,424.9 L664.9,427.8 L666.7,432.0 L668.2,431.1 L669.8,431.9 L671.3,432.7 L672.8,431.8 L674.4,434.2 L676.1,437.1 L677.7,439.5 L679.2,439.0 L680.7,436.8 L682.2,436.8 L683.8,436.6 L685.3,435.5 L686.8,435.2 L688.3,433.6 L689.8,432.7 L691.4,433.1 L693.0,433.3 L694.6,434.6 L696.2,434.8 L697.9,435.2 L699.5,434.8 L701.1,435.2 L702.7,435.5 L704.3,437.0 L705.9,437.5 L707.5,437.6 L709.2,436.3 L710.8,436.5 L712.4,438.3 L714.0,437.6 L715.7,438.4 L717.3,437.8 L718.9,438.2 L720.4,438.1 L721.9,437.7 L723.4,437.8 L725.0,436.5 L726.5,437.5 L728.0,437.5 L729.5,436.1 L731.0,436.3 L732.8,436.2 L734.6,435.0 L736.5,434.1 L738.3,433.4 L739.9,433.7 L741.5,432.6 L743.1,433.9 L744.7,433.4 L746.4,433.0 L748.0,433.0 L749.6,432.3 L751.2,431.6 L752.8,431.7 L754.4,431.6 L756.0,432.6 L757.7,432.4 L759.3,431.6 L760.9,432.9 L762.5,432.7 L764.2,432.9 L765.8,433.1 L767.4,432.5 L769.0,433.3 L770.6,433.1 L772.2,432.6 L773.8,432.6 L775.4,432.5 L777.0,431.7 L778.6,432.1 L780.2,430.8 L781.8,431.2 L783.4,431.2 L785.0,430.7 L786.7,431.7 L788.3,432.5 L789.9,432.8 L791.5,432.4 L793.2,434.0 L794.8,433.8 L796.4,433.5 L798.0,434.4 L799.7,434.5 L801.3,434.8 L802.8,433.9 L804.3,434.4 L805.8,433.1 L807.3,432.6 L808.8,432.1 L810.3,431.8 L811.8,429.5 L813.3,429.9 L814.8,429.5 L816.5,428.5 L818.1,428.6 L819.8,427.9 L821.5,428.0 L823.2,428.2 L824.9,427.6 L826.5,427.7 L828.2,428.7 L829.7,427.9 L831.2,427.6 L832.7,428.3 L834.2,427.4 L835.7,428.0 L837.2,427.1 L838.9,424.9 L840.5,421.1 L842.2,419.5 L843.9,417.3 L845.6,416.8 L847.2,419.2 L848.9,418.7 L850.6,420.0 L852.4,420.0 L854.2,421.0 L855.9,421.7 L857.7,421.1 L859.5,423.2 L861.0,420.6 L862.5,419.2 L864.0,417.7 L865.7,417.6 L867.4,417.9 L869.0,418.9 L870.7,419.1 L872.2,419.2 L873.7,420.5 L875.2,420.3 L876.7,420.4 L878.2,421.4 L879.7,421.6 L881.4,422.6 L883.0,424.5 L884.7,424.7 L886.4,426.4 L888.0,426.5 L889.6,425.5 L891.2,427.6 L892.8,427.8 L894.4,426.6 L896.0,428.4 L897.6,427.9 L899.1,427.2 L900.6,427.4 L902.1,425.3 L903.6,425.0 L905.1,425.0 L906.6,423.9 L908.3,422.3 L909.9,422.1 L911.6,420.7 L913.3,419.2 L914.9,417.2 L916.6,417.0 L918.2,417.6 L919.8,418.1 L921.3,418.7 L922.9,420.5 L924.5,420.6 L926.2,421.5 L927.9,422.2 L929.5,422.0 L931.2,422.0 L933.0,423.9 L934.8,424.9 L936.5,426.9 L938.3,427.8 L940.1,430.0 L941.6,430.8 L943.1,431.4 L944.6,431.4 L946.1,432.1 L947.6,434.5 L949.1,435.2 L950.7,433.8 L952.3,432.2 L953.9,430.9 L955.5,430.6 L957.1,429.2 L958.7,428.2 L960.3,427.1 L961.9,427.2 L963.5,426.0 L965.1,425.9 L966.7,427.1 L968.3,426.8 L969.9,426.6 L971.5,424.9 L973.2,422.4 L974.9,420.3 L976.5,418.1 L978.2,415.9 L979.7,413.9 L981.2,413.5 L982.7,411.5 L984.5,411.8 L986.3,413.1 L988.0,413.1 L989.8,413.4 L991.6,413.2 L993.1,413.2 L994.6,412.5 L996.1,412.6 L997.6,413.1 L999.1,413.1 L1000.6,411.5 L1002.8,412.8 L1005.0,415.2 L1006.5,414.6 L1006.5,446.5 Z" fill="#edf0f3"/>
<text x="46.4" y="463.2" text-anchor="middle" font-family="Liberation Sans" font-size="11" letter-spacing="0.2" fill="#7d828f">2016</text>
<text x="144.6" y="463.2" text-anchor="middle" font-family="Liberation Sans" font-size="11" letter-spacing="0.2" fill="#7d828f">2017</text>
<text x="241.6" y="463.2" text-anchor="middle" font-family="Liberation Sans" font-size="11" letter-spacing="0.2" fill="#7d828f">2018</text>
<text x="338.8" y="463.2" text-anchor="middle" font-family="Liberation Sans" font-size="11" letter-spacing="0.2" fill="#7d828f">2019</text>
<text x="435.8" y="463.2" text-anchor="middle" font-family="Liberation Sans" font-size="11" letter-spacing="0.2" fill="#7d828f">2020</text>
<text x="533.3" y="463.2" text-anchor="middle" font-family="Liberation Sans" font-size="11" letter-spacing="0.2" fill="#7d828f">2021</text>
<text x="630.6" y="463.2" text-anchor="middle" font-family="Liberation Sans" font-size="11" letter-spacing="0.2" fill="#7d828f">2022</text>
<text x="727.9" y="463.2" text-anchor="middle" font-family="Liberation Sans" font-size="11" letter-spacing="0.2" fill="#7d828f">2023</text>
<text x="825" y="463.2" text-anchor="middle" font-family="Liberation Sans" font-size="11" letter-spacing="0.2" fill="#7d828f">2024</text>
<text x="922.5" y="463.2" text-anchor="middle" font-family="Liberation Sans" font-size="11" letter-spacing="0.2" fill="#7d828f">2025</text>
<line x1="1006.5" y1="406" x2="1006.5" y2="446" stroke="#e8eaee" stroke-width="1"/>
<rect x="999" y="416.8" width="14.2" height="18.8" rx="6.5" fill="#ffffff" filter="url(#sh)"/>
<g stroke="#a9b1bf" stroke-width="1"><line x1="1004.5" y1="422.5" x2="1004.5" y2="430"/><line x1="1007.5" y1="422.5" x2="1007.5" y2="430"/></g>
<path d="M8.5,389.4 Q8.2,389 8.6,388.6 L13.5,381 Q16.4,377.3 20.5,377.3 L40.5,377.3 A12.1,12.1 0 0 1 40.5,401.5 L20.5,401.5 Q16.4,401.5 13.5,397.8 L8.6,390.2 Z" fill="#a5aec0"/>
<g fill="none" stroke="#ffffff" stroke-width="1.5" stroke-linecap="round" stroke-linejoin="round">
<path d="M18.7,387.2 A5.5,5.5 0 1 1 19.6,392"/>
<path d="M24,385.3 V388.8 L26.4,391.2"/>
<path d="M17.2,385.6 L18.7,387.4 L20.7,386.2"/>
</g>
<text x="34.6" y="392.8" font-family="Liberation Sans" font-size="10.5" fill="#ffffff" stroke="#ffffff" stroke-width="0.35" textLength="11.9" lengthAdjust="spacingAndGlyphs">87</text>
<path d="M958,378.5 L962,374.3 L966,378.5 Z" fill="#3861fb"/>
<rect x="919" y="378" width="86" height="23.6" rx="11.8" fill="#3861fb"/>
<g fill="none" stroke="#ffffff" stroke-width="1.4" stroke-linecap="round" stroke-linejoin="round">
<path d="M928.3,394.8 A6.3,6.3 0 1 1 931.5,396.3 L927,396.5 L928.3,394.8"/>
<path d="M929.8,391.5 L932,387.3 L933.5,391 L935.2,387.3 L937,391"/>
<path d="M989.6,387.2 L993,391 L989.6,394.8"/>
</g>
<text x="943.3" y="394" font-family="Liberation Sans" font-size="11.5" fill="#ffffff" stroke="#ffffff" stroke-width="0.45" textLength="41" lengthAdjust="spacingAndGlyphs">Analyze</text>
</svg>
</body></html>
